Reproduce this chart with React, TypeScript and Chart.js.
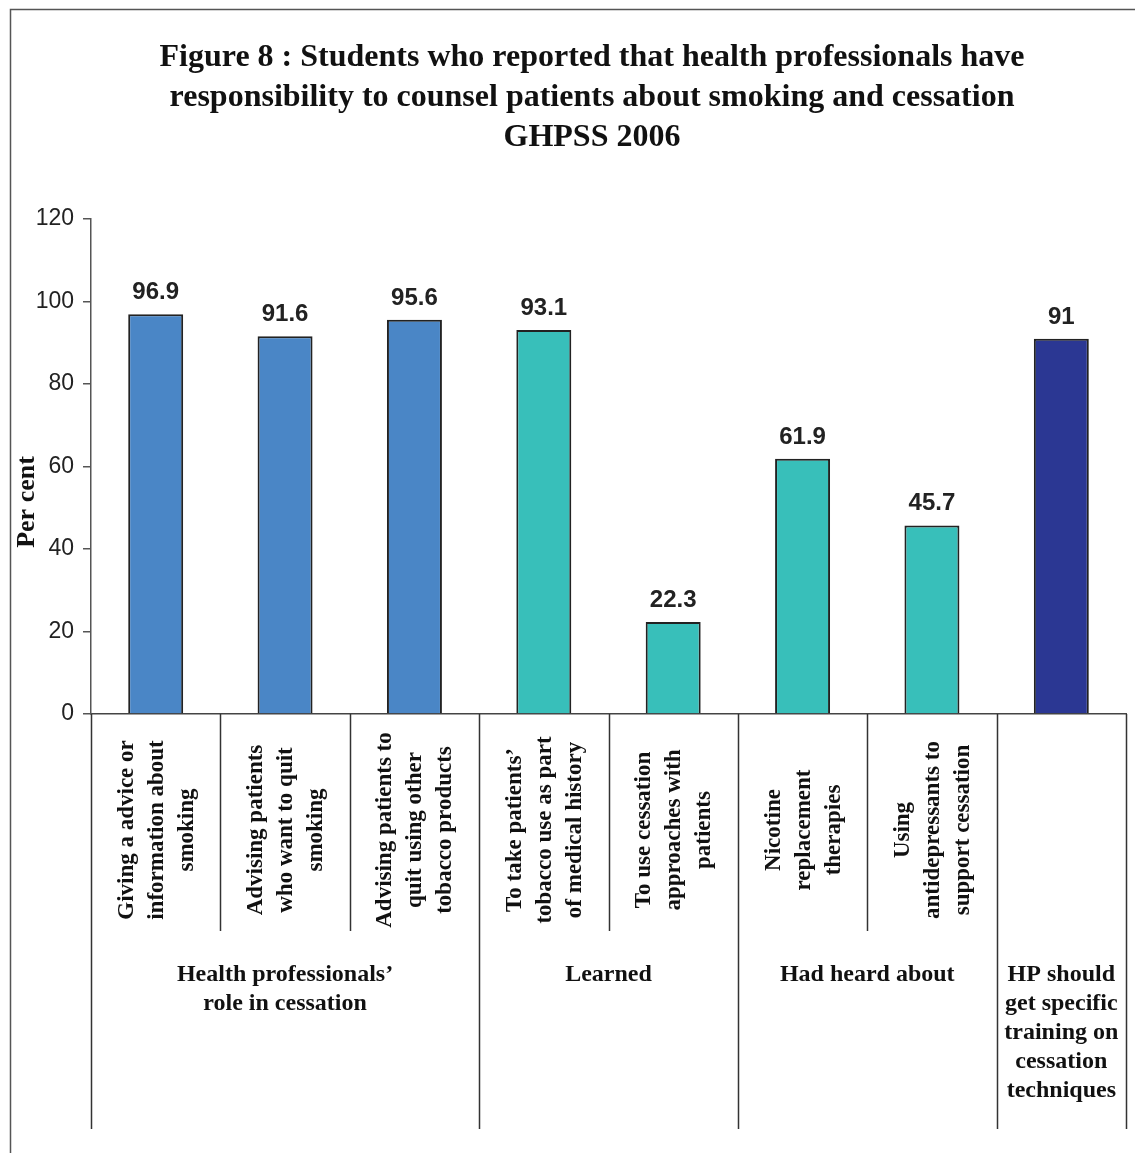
import React, { useEffect, useRef } from "react";
import { Chart, registerables } from "chart.js";

Chart.register(...registerables);

const titleLines = [
  "Figure 8 : Students who reported that health professionals have",
  "responsibility to counsel patients about smoking and cessation",
  "GHPSS 2006",
];

const categoryLines: string[][] = [
  ["Giving a advice or", "information about", "smoking"],
  ["Advising patients", "who want to quit", "smoking"],
  ["Advising patients to", "quit using other", "tobacco products"],
  ["To take patients’", "tobacco use as part", "of medical history"],
  ["To use cessation", "approaches with", "patients"],
  ["Nicotine", "replacement", "therapies"],
  ["Using", "antidepressants to", "support cessation"],
  [],
];

const values = [96.9, 91.6, 95.6, 93.1, 22.3, 61.9, 45.7, 91];
const valueLabels = ["96.9", "91.6", "95.6", "93.1", "22.3", "61.9", "45.7", "91"];

const barColors = [
  "#4A86C6",
  "#4A86C6",
  "#4A86C6",
  "#38BFBA",
  "#38BFBA",
  "#38BFBA",
  "#38BFBA",
  "#2B3793",
];

const groupLabels: string[][] = [
  ["Health professionals’", "role in cessation"],
  ["Learned"],
  ["Had heard about"],
  ["HP should", "get specific", "training on", "cessation", "techniques"],
];
const groupStart = [0, 3, 5, 7];
const groupEnd = [2, 4, 6, 7];

const yTicks = [0, 20, 40, 60, 80, 100, 120];
const yTitle = "Per cent";

const SERIF = "'Liberation Serif', 'Times New Roman', serif";
const SANS = "'Liberation Sans', Arial, sans-serif";

const decorPlugin = {
  id: "decor",
  afterDraw(chart: any) {
    const ctx = chart.ctx;
    const area = chart.chartArea;
    const xs = chart.scales.x;
    const n = values.length;
    const step = (area.right - area.left) / n;
    ctx.save();

    // frame
    ctx.strokeStyle = "#555";
    ctx.lineWidth = 1.5;
    ctx.beginPath();
    ctx.moveTo(10.5, 1153);
    ctx.lineTo(10.5, 9.5);
    ctx.lineTo(1135, 9.5);
    ctx.stroke();

    // title
    ctx.fillStyle = "#111";
    ctx.font = `bold 32px ${SERIF}`;
    ctx.textAlign = "center";
    ctx.textBaseline = "middle";
    titleLines.forEach((t, i) => ctx.fillText(t, 592, 58 + i * 40));

    // y title
    ctx.save();
    ctx.translate(27, 502);
    ctx.rotate(-Math.PI / 2);
    ctx.font = `bold 26px ${SERIF}`;
    ctx.fillText(yTitle, 0, 0);
    ctx.restore();

    // value labels
    const meta = chart.getDatasetMeta(0);
    ctx.font = `bold 24px ${SANS}`;
    ctx.fillStyle = "#222";
    ctx.textBaseline = "alphabetic";
    meta.data.forEach((bar: any, i: number) => {
      ctx.fillText(valueLabels[i], bar.x, bar.y - 15);
    });

    // separators
    ctx.strokeStyle = "#333";
    ctx.lineWidth = 1.5;
    const groupBoundaries = new Set<number>();
    groupStart.forEach((s) => groupBoundaries.add(s));
    groupBoundaries.add(n);
    for (let b = 0; b <= n; b++) {
      const x = Math.round(area.left + b * step) + 0.5;
      const long = groupBoundaries.has(b);
      ctx.beginPath();
      ctx.moveTo(x, area.bottom);
      ctx.lineTo(x, long ? 1129 : 931);
      ctx.stroke();
    }

    // category labels
    ctx.fillStyle = "#111";
    ctx.font = `bold 23px ${SERIF}`;
    ctx.textAlign = "center";
    ctx.textBaseline = "middle";
    categoryLines.forEach((lines, i) => {
      const cx = xs.getPixelForValue(i);
      lines.forEach((t, j) => {
        ctx.save();
        ctx.translate(cx + 1 + (j - (lines.length - 1) / 2) * 30, 830);
        ctx.rotate(-Math.PI / 2);
        ctx.fillText(t, 0, 0);
        ctx.restore();
      });
    });

    // group labels
    ctx.font = `bold 24px ${SERIF}`;
    groupLabels.forEach((lines, g) => {
      const x0 = area.left + groupStart[g] * step;
      const x1 = area.left + (groupEnd[g] + 1) * step;
      const cx = (x0 + x1) / 2;
      lines.forEach((t, j) => ctx.fillText(t, cx, 975 + j * 29));
    });

    ctx.restore();
  },
};

export default function App() {
  const ref = useRef<HTMLCanvasElement>(null);
  useEffect(() => {
    if (!ref.current) return;
    const chart = new Chart(ref.current, {
      type: "bar",
      data: {
        labels: categoryLines.map((l, i) => (l.length ? l.join(" ") : "HP training " + i)),
        datasets: [
          {
            data: values,
            backgroundColor: barColors,
            borderColor: "#222",
            borderWidth: 2,
            barPercentage: 0.85,
            categoryPercentage: 0.5,
          },
        ],
      },
      options: {
        animation: false,
        responsive: false,
        maintainAspectRatio: false,
        layout: { padding: { left: 0, top: 219, right: 9, bottom: 439 } },
        plugins: {
          legend: { display: false },
          tooltip: { enabled: false },
          title: { display: false },
        },
        scales: {
          x: {
            grid: { display: false },
            ticks: { display: false },
            border: { display: true, color: "#444", width: 1.5 },
            afterFit: (s: any) => {
              s.height = 0;
            },
          },
          y: {
            min: 0,
            max: 120,
            afterBuildTicks: (s: any) => {
              s.ticks = yTicks.map((v) => ({ value: v }));
            },
            ticks: {
              font: { family: SANS, size: 23 },
              color: "#222",
              padding: 9,
            },
            grid: {
              drawOnChartArea: false,
              drawTicks: true,
              tickLength: 8,
              color: "#555",
              lineWidth: 1.5,
            },
            border: { display: true, color: "#555", width: 1.5 },
            afterFit: (s: any) => {
              s.width = 91;
            },
          },
        },
      },
      plugins: [decorPlugin],
    });
    return () => chart.destroy();
  }, []);
  return (
    <div style={{ position: "absolute", left: 0, top: 0, width: 1135, height: 1153, background: "#fff" }}>
      <canvas ref={ref} width={1135} height={1153} style={{ display: "block" }} />
    </div>
  );
}
